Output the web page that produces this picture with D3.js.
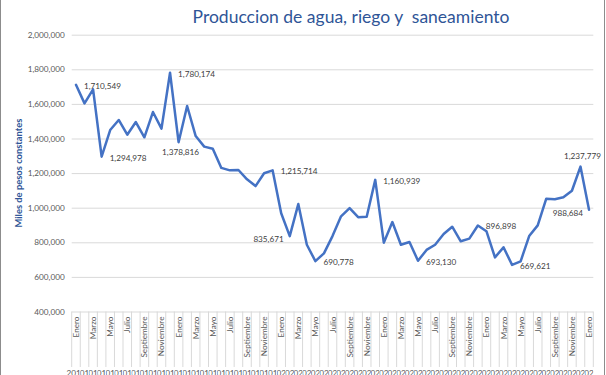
<!DOCTYPE html>
<html>
<head>
<meta charset="utf-8">
<script src="https://cdn.jsdelivr.net/npm/d3@7"></script>
<style>
  html, body { margin: 0; padding: 0; background: #ffffff; }
  svg { display: block; }
  text { font-family: Lato, "Open Sans", sans-serif; }
</style>
</head>
<body>
<svg id="chart" width="606" height="375"></svg>
<script>
// ---- data ----
const title = "Produccion de agua, riego y  saneamiento";
const yTitle = "Miles de pesos constantes";
const monthNames = ["Enero","Febrero","Marzo","Abril","Mayo","Junio","Julio","Agosto","Septiembre","Octubre","Noviembre","Diciembre"];
const years = ["2018","2019","2020","2021","2022","2023"];
const values = [
  1710549, 1603000, 1684000, 1294978, 1449000, 1507000, 1422000, 1495000, 1407000, 1553000, 1457000, 1780174,
  1378816, 1588000, 1414000, 1353000, 1341000, 1230000, 1216000, 1218000, 1164000, 1125000, 1199000, 1215714,
  968000, 835671, 1021000, 786000, 690778, 736000, 836000, 950000, 998000, 945000, 948000, 1160939,
  798000, 917000, 786000, 802000, 693130, 756000, 786000, 848000, 890000, 806000, 821000, 896898,
  864000, 713000, 771000, 669621, 690000, 836000, 898000, 1052000, 1049000, 1060000, 1098000, 1237779,
  988684
];
const yTicks = [400000, 600000, 800000, 1000000, 1200000, 1400000, 1600000, 1800000, 2000000];
const labelIdx = [0, 3, 11, 12, 23, 25, 28, 35, 40, 47, 51, 59, 60];
const labelPos = ["right","right","right","below","right","left","right","right","right","right","right","above","left"];

// categories (month + year) for each value
const categories = values.map((v, i) => ({
  month: monthNames[i % 12],
  year: years[Math.floor(i / 12)]
}));

// ---- layout ----
const svg = d3.select("#chart");
const plot = { left: 71.7, right: 593.3, top: 34.7, bottom: 311.5 };
const fmt = d3.format(",");

const x = d3.scaleBand().domain(d3.range(values.length)).range([plot.left, plot.right]).padding(0);
const y = d3.scaleLinear().domain([400000, 2000000]).range([plot.bottom, plot.top]);
const cx = i => x(i) + x.bandwidth() / 2;

// frame lines (chart object border)
svg.append("line").attr("x1", 0.5).attr("x2", 0.5).attr("y1", 0).attr("y2", 375)
  .attr("stroke", "#8c8c8c").attr("stroke-width", 1);
svg.append("line").attr("x1", 604.5).attr("x2", 604.5).attr("y1", 0).attr("y2", 375)
  .attr("stroke", "#8c8c8c").attr("stroke-width", 1);

// title
svg.append("text")
  .attr("x", 351).attr("y", 23)
  .attr("text-anchor", "middle")
  .attr("font-size", 17.5)
  .attr("fill", "#2F5597")
  .style("white-space", "pre")
  .attr("xml:space", "preserve")
  .text(title);

// gridlines + y labels
const yAxis = d3.axisLeft(y).tickValues(yTicks).tickSize(-(plot.right - plot.left)).tickFormat(fmt).tickPadding(7);
const gY = svg.append("g").attr("transform", `translate(${plot.left},0)`).call(yAxis);
gY.select(".domain").remove();
gY.selectAll(".tick line").attr("stroke", "#d9d9d9").attr("stroke-width", 1);
gY.selectAll(".tick text").attr("fill", "#595959").attr("font-size", 8.2).style("font-family", "Lato, sans-serif");

// y axis title
svg.append("text")
  .attr("transform", `translate(22,${(plot.top + plot.bottom) / 2}) rotate(-90)`)
  .attr("text-anchor", "middle")
  .attr("font-size", 9.4)
  .attr("font-weight", "bold")
  .attr("fill", "#2F5597")
  .text(yTitle);

// category axis: boundary lines
const bounds = d3.range(values.length + 1).map(i => plot.left + i * x.bandwidth());
svg.append("g").selectAll("line").data(bounds).join("line")
  .attr("x1", d => d).attr("x2", d => d)
  .attr("y1", plot.bottom).attr("y2", 367)
  .attr("stroke", "#d9d9d9").attr("stroke-width", 1);

// month labels (every other category)
svg.append("g").selectAll("text")
  .data(categories.map((c, i) => ({ c, i })).filter(d => d.i % 2 === 0))
  .join("text")
  .attr("transform", d => `translate(${cx(d.i) + 3},${plot.bottom + 5}) rotate(-90)`)
  .attr("text-anchor", "end")
  .attr("font-size", 8.2)
  .attr("fill", "#595959")
  .text(d => d.c.month);

// year labels, each clipped to its category cell
const defs = svg.append("defs");
categories.forEach((c, i) => {
  defs.append("clipPath").attr("id", "yc" + i)
    .append("rect").attr("x", i === 0 ? 0 : x(i)).attr("y", 360)
    .attr("width", i === 0 ? x(i) + x.bandwidth() : x.bandwidth()).attr("height", 20);
});
svg.append("g").selectAll("text")
  .data(categories.map((c, i) => ({ c, i })))
  .join("text")
  .attr("clip-path", d => `url(#yc${d.i})`)
  .attr("x", d => cx(d.i)).attr("y", 375.5)
  .attr("text-anchor", "middle")
  .attr("font-size", 8.2)
  .attr("fill", "#595959")
  .text(d => d.c.year);

// line
const line = d3.line().x((d, i) => cx(i)).y(d => y(d));
svg.append("path").datum(values)
  .attr("d", line)
  .attr("fill", "none")
  .attr("stroke", "#4472C4")
  .attr("stroke-width", 2.5)
  .attr("stroke-linejoin", "round")
  .attr("stroke-linecap", "round");

// data labels
svg.append("g").selectAll("text")
  .data(labelIdx.map((idx, k) => ({ idx, pos: labelPos[k], v: values[idx] })))
  .join("text")
  .attr("x", d => d.pos === "right" ? cx(d.idx) + 8 : d.pos === "left" ? cx(d.idx) - 6 : cx(d.idx) + 2)
  .attr("y", d => d.pos === "below" ? y(d.v) + 10 : d.pos === "above" ? y(d.v) - 10 : d.pos === "left" ? y(d.v) + 3.5 : y(d.v) + 1)
  .attr("dy", "0.35em")
  .attr("text-anchor", d => d.pos === "right" ? "start" : d.pos === "left" ? "end" : "middle")
  .attr("font-size", 8.2)
  .attr("fill", "#404040")
  .text(d => fmt(d.v));
</script>
</body>
</html>
